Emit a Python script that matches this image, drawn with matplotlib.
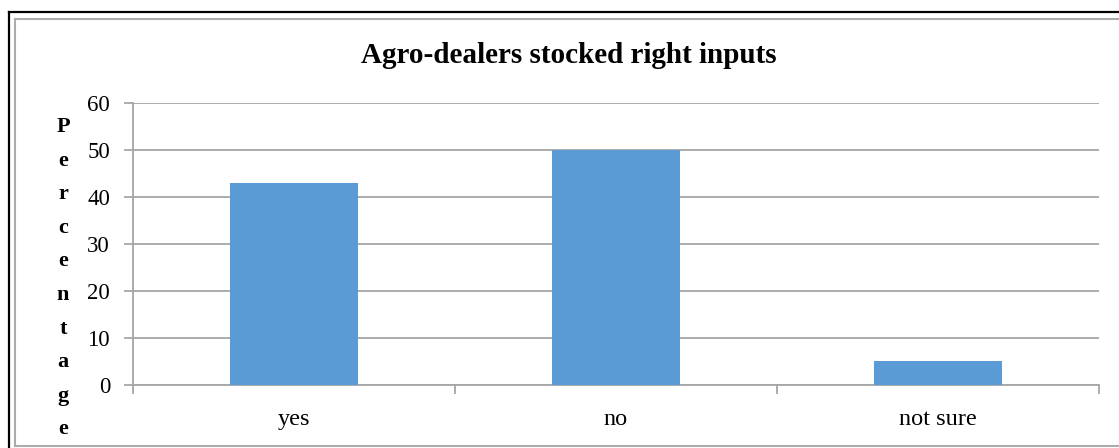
import matplotlib
matplotlib.use("Agg")
import matplotlib.pyplot as plt
from matplotlib.lines import Line2D

# Survey responses: did agro-dealers stock the right inputs?
categories = ["yes", "no", "not sure"]
percentages = [42.9, 50.0, 5.2]
y_ticks = [0, 10, 20, 30, 40, 50, 60]
title = "Agro-dealers stocked right inputs"
y_label = "Percentage"

W, H, DPI = 1119, 448, 100
plt.rcParams["font.family"] = ["Liberation Serif", "DejaVu Serif"]

fig = plt.figure(figsize=(W / DPI, H / DPI), dpi=DPI)
fig.patch.set_facecolor("white")

def fx(px):
    return px / W

def fy(py):
    return 1 - py / H

# Frame around the chart: outer black rule and inner grey border
fig.add_artist(Line2D([fx(9), fx(W + 5)], [fy(12), fy(12)], color="black", lw=1.6))
fig.add_artist(Line2D([fx(9), fx(9)], [fy(12), fy(H + 5)], color="black", lw=1.6))
grey_border = "#ababab"
fig.add_artist(Line2D([fx(15), fx(W + 5)], [fy(19), fy(19)], color=grey_border, lw=1.5))
fig.add_artist(Line2D([fx(15), fx(15)], [fy(19), fy(446)], color=grey_border, lw=1.5))
fig.add_artist(Line2D([fx(15), fx(W + 5)], [fy(446), fy(446)], color=grey_border, lw=1.5))

left, right, top, bottom = 133, 1099, 103, 385
ax = fig.add_axes([fx(left), fy(bottom), fx(right - left), (bottom - top) / H])

grid_color = "#a6a6a6"
x = list(range(len(categories)))
ax.bar(x, percentages, width=0.4, color="#5B9BD5", zorder=3)

ax.set_xlim(-0.5, len(categories) - 0.5)
ax.set_ylim(0, 60)
ax.set_yticks(y_ticks)
ax.set_yticklabels([str(v) for v in y_ticks], fontsize=16.5)
ax.yaxis.grid(True, color=grid_color, lw=1.3, zorder=0)
ax.set_axisbelow(True)

ax.set_xticks(x)
ax.set_xticklabels(categories, fontsize=17.5)
ax.set_xticks([i - 0.5 for i in range(len(categories) + 1)], minor=True)
ax.tick_params(axis="x", which="major", length=0, pad=17)
ax.tick_params(axis="x", which="minor", length=6.5, width=1.3, color=grid_color, direction="out")
ax.tick_params(axis="y", which="major", length=6.5, width=1.3, color=grid_color, direction="out", pad=10)

for side in ("top", "right"):
    ax.spines[side].set_visible(False)
for side in ("left", "bottom"):
    ax.spines[side].set_color(grid_color)
    ax.spines[side].set_linewidth(1.3)

# Title
fig.text(fx(569), fy(55.5), title, ha="center", va="center", fontsize=21, fontweight="bold")

# Vertical axis label written as stacked letters
top_letter, step = 127, 33.6
for i, ch in enumerate(y_label):
    fig.text(fx(63), fy(top_letter + i * step), ch, ha="center", va="center",
             fontsize=16, fontweight="bold")

fig.savefig("out.png", dpi=DPI, facecolor="white")
